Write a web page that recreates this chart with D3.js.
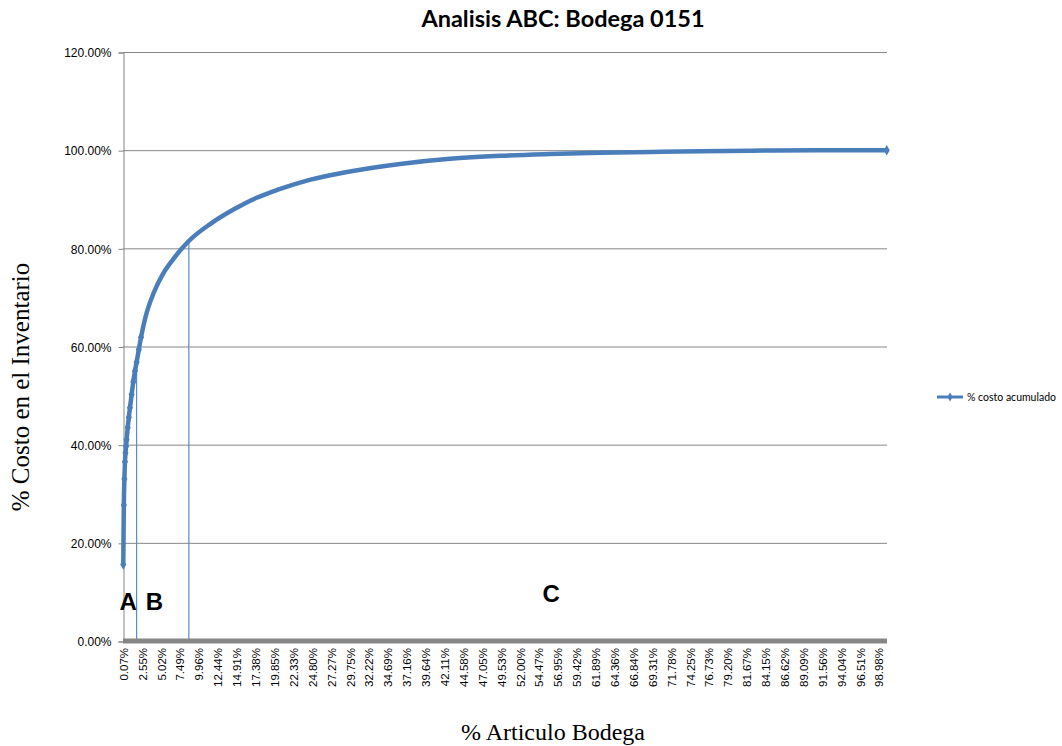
<!DOCTYPE html>
<html>
<head>
<meta charset="utf-8">
<script src="https://cdn.jsdelivr.net/npm/d3@7"></script>
<style>
	body { margin: 0; background: #fff; }
	svg { display: block; }
</style>
</head>
<body>
<div class="chart"></div>
<script>
var width = 1062, height = 746;

// categories: 1375 articulos, one label every 34 of them
var itemCount = 1375;
var xTickLabels = ["0.07%", "2.55%", "5.02%", "7.49%", "9.96%", "12.44%", "14.91%", "17.38%", "19.85%",
			"22.33%", "24.80%", "27.27%", "29.75%", "32.22%", "34.69%", "37.16%", "39.64%", "42.11%",
			"44.58%", "47.05%", "49.53%", "52.00%", "54.47%", "56.95%", "59.42%", "61.89%", "64.36%",
			"66.84%", "69.31%", "71.78%", "74.25%", "76.73%", "79.20%", "81.67%", "84.15%", "86.62%",
			"89.09%", "91.56%", "94.04%", "96.51%", "98.98%"];
var xTickStep = 34;
var yTicks = [0, 20, 40, 60, 80, 100, 120];

// % costo acumulado (articulo index -> %)
var articuloIdx = [0, 1, 2, 3, 4, 5, 6, 8, 10, 12, 15, 18, 21, 24, 28, 32, 40, 55, 72, 90, 105, 118,
			157, 200, 240, 277, 337, 400, 498, 588, 678, 768, 858, 950, 1040, 1130, 1250, 1374];
var costoAcum = [15.6, 27.7, 33.0, 36.5, 38.3, 39.7, 41.0, 43.5, 45.6, 47.5, 50.2, 52.8, 55.0, 56.8,
			59.4, 61.9, 66.0, 71.0, 74.9, 77.8, 79.9, 81.5, 85.0, 88.0, 90.3, 91.9, 94.0, 95.5, 97.2,
			98.25, 98.85, 99.2, 99.45, 99.65, 99.8, 99.9, 99.96, 100];

// A / B / C zone boundaries
var zoneIdx = [24, 118];
var zoneVal = [56.2, 81.4];
var zoneLabels = [{t: "A", i: 9, v: 6.3}, {t: "B", i: 56, v: 6.3}, {t: "C", i: 770, v: 7.9}];

var svg = d3.select(".chart").append("svg").attr("width", width).attr("height", height);

var plot = {left: 123, right: 887, top: 52, bottom: 641};

var x = d3.scaleLinear().domain([-0.5, itemCount - 0.5]).range([plot.left, plot.right]);
var y = d3.scaleLinear().domain([0, 120]).range([plot.bottom, plot.top]);

render();

function render() {
	var blue = "#4A7EBB", grid = "#868686";

	// gridlines
	svg.append("g").selectAll("line").data(yTicks.slice(1)).enter().append("line")
		.attr("x1", plot.left).attr("x2", plot.right)
		.attr("y1", function(d){return y(d) + 0.5;}).attr("y2", function(d){return y(d) + 0.5;})
		.attr("stroke", grid).attr("stroke-width", 1);

	// y axis
	var yAxis = d3.axisLeft(y).tickValues(yTicks).tickSize(5)
		.tickFormat(function(d){return d.toFixed(2) + "%";});
	var yg = svg.append("g").attr("transform", "translate(" + (plot.left + 0.5) + ",0.5)").call(yAxis);
	yg.select(".domain").attr("stroke", grid);
	yg.selectAll(".tick line").attr("stroke", grid);
	yg.selectAll(".tick text").attr("x", -12).attr("dy", "0.35em")
		.attr("font-family", "'Liberation Sans', Arial, sans-serif").attr("font-size", 12).attr("fill", "#000");

	// zone separators
	svg.append("g").selectAll("line").data(zoneIdx).enter().append("line")
		.attr("x1", function(d){return x(d);}).attr("x2", function(d){return x(d);})
		.attr("y1", plot.bottom).attr("y2", function(d, i){return y(zoneVal[i]);})
		.attr("stroke", "#5B8BCB").attr("stroke-width", 1.2);

	// x axis (category)
	var tickIdx = xTickLabels.map(function(d, i){return i * xTickStep;});
	var xAxis = d3.axisBottom(x).tickValues(tickIdx).tickSize(0)
		.tickFormat(function(d, i){return xTickLabels[i];});
	var xg = svg.append("g").attr("transform", "translate(0," + plot.bottom + ")").call(xAxis);
	xg.select(".domain").remove();
	xg.append("line").attr("x1", plot.left).attr("x2", plot.right).attr("y1", 0).attr("y2", 0)
		.attr("stroke", grid).attr("stroke-width", 5);
	xg.selectAll(".tick text")
		.attr("transform", "rotate(-90)")
		.attr("x", -7).attr("y", 0).attr("dy", "0.35em")
		.attr("text-anchor", "end")
		.attr("font-family", "'Liberation Sans', Arial, sans-serif").attr("font-size", 11.5).attr("fill", "#000");

	// curve
	var pts = articuloIdx.map(function(d, i){return [d, costoAcum[i]];});
	var line = d3.line().x(function(d){return x(d[0]);}).y(function(d){return y(d[1]);})
		.curve(d3.curveMonotoneX);
	svg.append("path").datum(pts).attr("d", line)
		.attr("fill", "none").attr("stroke", blue).attr("stroke-width", 4.5).attr("stroke-linejoin", "round");

	// markers only show where the points are far apart (steep start) and at the end
	var diamond = d3.symbol().type(d3.symbolDiamond).size(32);
	svg.append("g").selectAll("path")
		.data(pts.filter(function(d, i){return d[0] <= 32 || i == pts.length - 1;}))
		.enter().append("path")
		.attr("d", diamond)
		.attr("transform", function(d){return "translate(" + x(d[0]) + "," + y(d[1]) + ")";})
		.attr("fill", blue);

	// zone letters
	svg.append("g").selectAll("text").data(zoneLabels).enter().append("text")
		.attr("x", function(d){return x(d.i);}).attr("y", function(d){return y(d.v);})
		.attr("text-anchor", "middle")
		.attr("font-family", "'Liberation Sans', Arial, sans-serif").attr("font-weight", "bold")
		.attr("font-size", 24).text(function(d){return d.t;});

	// title & axis titles
	svg.append("text").attr("x", 563).attr("y", 27).attr("text-anchor", "middle")
		.attr("font-family", "Lato, sans-serif").attr("font-weight", "bold").attr("font-size", 23.5)
		.text("Analisis ABC: Bodega 0151");

	svg.append("text").attr("x", 553).attr("y", 740).attr("text-anchor", "middle")
		.attr("font-family", "'Liberation Serif', 'Times New Roman', serif").attr("font-size", 24)
		.text("% Articulo Bodega");

	svg.append("text").attr("transform", "translate(29," + 387 + ") rotate(-90)").attr("text-anchor", "middle")
		.attr("font-family", "'Liberation Serif', 'Times New Roman', serif").attr("font-size", 25)
		.text("% Costo en el Inventario");

	// legend
	var lg = svg.append("g").attr("transform", "translate(937,397)");
	lg.append("line").attr("x1", 0).attr("x2", 26).attr("stroke", blue).attr("stroke-width", 3);
	lg.append("path").attr("d", d3.symbol().type(d3.symbolDiamond).size(24)).attr("transform", "translate(13,0)").attr("fill", blue);
	lg.append("text").attr("x", 30).attr("dy", "0.35em")
		.attr("font-family", "Lato, sans-serif").attr("font-size", 10.5).text("% costo acumulado");
}
</script>
</body>
</html>
